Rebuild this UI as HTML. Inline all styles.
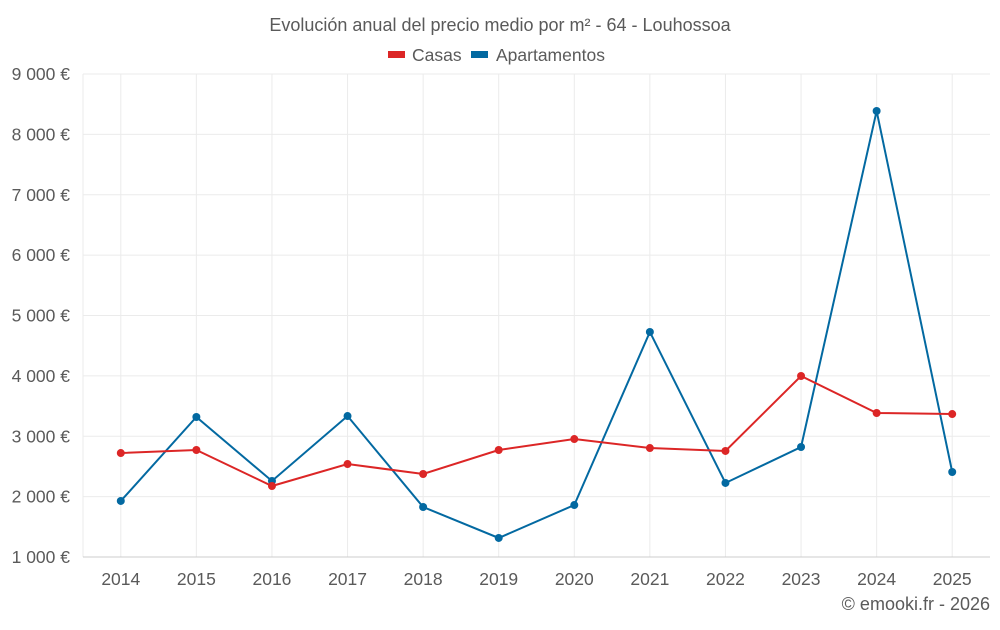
<!DOCTYPE html>
<html><head><meta charset="utf-8"><style>
body{margin:0;background:#fff;font-family:"Liberation Sans",sans-serif;}
svg text{font-family:"Liberation Sans",sans-serif;fill:#5a5a5a;}
</style></head><body>
<svg id="chart" width="1000" height="625" xmlns="http://www.w3.org/2000/svg">
<text x="500" y="31" text-anchor="middle" font-size="18">Evolución anual del precio medio por m² - 64 - Louhossoa</text>
<g>
<rect x="388" y="51" width="17" height="7" fill="#dc2626"/>
<text x="412" y="61" font-size="17.5">Casas</text>
<rect x="471" y="51" width="17" height="7" fill="#0369a1"/>
<text x="496" y="61" font-size="17.5">Apartamentos</text>
</g>
<g id="grid"></g><g id="axes"></g><g id="series"></g>
<text x="990" y="610" text-anchor="end" font-size="18">© emooki.fr - 2026</text>
</svg>
<script>
const categories=["2014","2015","2016","2017","2018","2019","2020","2021","2022","2023","2024","2025"];
const casas=[2722,2772,2176,2540,2375,2772,2954,2805,2756,3998,3385,3368];
const apartamentos=[1928,3319,2259,3335,1828,1315,1861,4727,2226,2822,8387,2408];
const yTicks=[1000,2000,3000,4000,5000,6000,7000,8000,9000];
const yTickLabels=["1 000 €","2 000 €","3 000 €","4 000 €","5 000 €","6 000 €","7 000 €","8 000 €","9 000 €"];
const L=83,R=990,T=74,B=557,yMin=1000,yMax=9000;
const NS="http://www.w3.org/2000/svg";
const cw=(R-L)/categories.length;
const x=i=>L+cw*(i+0.5);
const y=v=>B-(v-yMin)/(yMax-yMin)*(B-T);
function mk(tag,attrs,parent){const e=document.createElementNS(NS,tag);for(const k in attrs)e.setAttribute(k,attrs[k]);parent.appendChild(e);return e;}
const grid=document.getElementById('grid'),axes=document.getElementById('axes'),ser=document.getElementById('series');
const lv=mk('line',{x1:L,x2:L,y1:T,y2:B,stroke:'#ebebeb'},grid);


categories.forEach((c,i)=>{
 const l=mk('line',{x1:x(i),x2:x(i),y1:T,y2:B,stroke:'#ebebeb','stroke-width':1},grid);
 
 
 const tx=mk('text',{x:x(i),y:585,'text-anchor':'middle','font-size':17.5},axes);
 tx.textContent=c;
 
 
});
yTicks.forEach((t,i)=>{
 const l=mk('line',{x1:L-8*(i==0?0:0),x2:R,y1:y(t),y2:y(t),stroke:i==0?'#ccc':'#ebebeb','stroke-width':1},grid);
 
 
 const tx=mk('text',{x:70,y:y(t)+6,'text-anchor':'end','font-size':17.5},axes);
 tx.textContent=yTickLabels[i];
 
 
});
function draw(vals,color,name){
 const p=mk('polyline',{points:vals.map((v,i)=>x(i)+','+y(v)).join(' '),fill:'none',stroke:color,'stroke-width':2},ser);
 
 
 vals.forEach((v,i)=>{
  const c=mk('circle',{cx:x(i),cy:y(v),r:4,fill:color},ser);
  
  
 });
}
draw(apartamentos,'#0369a1','apartamentos');
draw(casas,'#dc2626','casas');
</script>
</body></html>
